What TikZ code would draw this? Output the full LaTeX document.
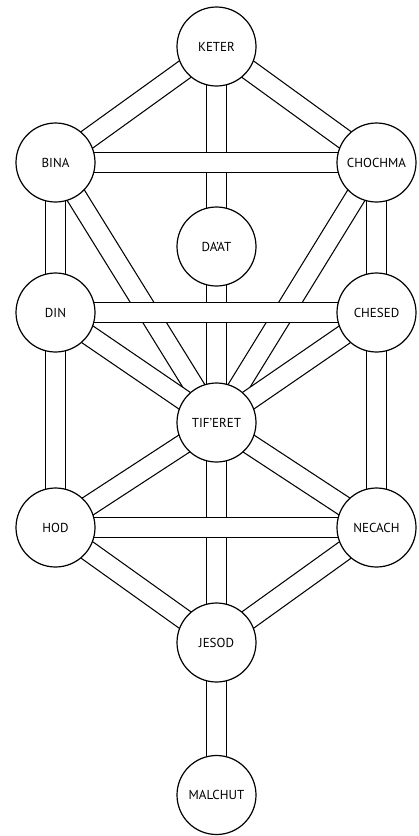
\documentclass[tikz,border=0pt]{standalone}
\usepackage{fontspec}
\setmainfont{PT Sans}
\pgfdeclarelayer{background}
\pgfsetlayers{background,main}
\begin{document}
\begin{tikzpicture}[x=1pt,y=-1pt,
  sefira/.style={circle, draw=black, fill=white, line width=1.2pt, minimum size=79pt, inner sep=0pt, font=\fontsize{13}{15}\selectfont},
  channel/.style={draw=black, line width=1.2pt, double=white, double distance=18.8pt}]
\useasboundingbox (0,0) rectangle (419,836);
\node[sefira] (keter) at (216.5,46.5) {KETER};
\node[sefira] (bina) at (55.5,162.5) {BINA};
\node[sefira] (chochma) at (376.5,162.5) {CHOCHMA};
\node[sefira] (daat) at (216.5,246.5) {DA'AT};
\node[sefira] (din) at (55.5,312.5) {DIN};
\node[sefira] (chesed) at (376.5,312.5) {CHESED};
\node[sefira] (tiferet) at (216.5,422.5) {TIF'ERET};
\node[sefira] (hod) at (55.5,527.5) {HOD};
\node[sefira] (necach) at (376.5,527.5) {NECACH};
\node[sefira] (jesod) at (216.5,642.5) {JESOD};
\node[sefira] (malchut) at (216.5,795) {MALCHUT};
\begin{pgfonlayer}{background}
% diagonals
\draw[channel] (keter.center) -- (bina.center);
\draw[channel] (keter.center) -- (chochma.center);
\draw[channel] (bina.center) -- (tiferet.center);
\draw[channel] (chochma.center) -- (tiferet.center);
\draw[channel] (din.center) -- (tiferet.center);
\draw[channel] (chesed.center) -- (tiferet.center);
\draw[channel] (hod.center) -- (tiferet.center);
\draw[channel] (necach.center) -- (tiferet.center);
\draw[channel] (hod.center) -- (jesod.center);
\draw[channel] (necach.center) -- (jesod.center);
% verticals
\draw[channel] (keter.center) -- (daat.center);
\draw[channel] (daat.center) -- (tiferet.center);
\draw[channel] (tiferet.center) -- (jesod.center);
\draw[channel] (jesod.center) -- (malchut.center);
\draw[channel] (bina.center) -- (din.center);
\draw[channel] (din.center) -- (hod.center);
\draw[channel] (chochma.center) -- (chesed.center);
\draw[channel] (chesed.center) -- (necach.center);
% horizontals
\draw[channel] (bina.center) -- (chochma.center);
\draw[channel] (din.center) -- (chesed.center);
\draw[channel] (hod.center) -- (necach.center);
\end{pgfonlayer}
\end{tikzpicture}
\end{document}
